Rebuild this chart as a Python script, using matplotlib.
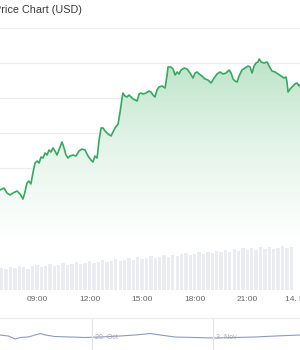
import numpy as np
import matplotlib
matplotlib.use('Agg')
import matplotlib.pyplot as plt
from matplotlib.colors import LinearSegmentedColormap
from matplotlib.patches import PathPatch

plt.rcParams['font.family'] = ['Liberation Sans', 'DejaVu Sans']

# price (USD), time in hours of the day
hours = [6.90, 7.12, 7.29, 7.45, 7.62, 7.84, 8.01, 8.17, 8.28, 8.39,
         8.50, 8.61, 8.73, 8.84, 8.95, 9.06, 9.17, 9.28, 9.39, 9.50,
         9.61, 9.72, 9.83, 9.94, 10.05, 10.16, 10.33, 10.44, 10.55, 10.66,
         10.77, 10.94, 11.10, 11.27, 11.44, 11.60, 11.77, 11.93, 12.04, 12.15,
         12.27, 12.38, 12.49, 12.60, 12.71, 12.87, 13.04, 13.15, 13.26, 13.43,
         13.54, 13.65, 13.70, 13.81, 13.92, 14.03, 14.15, 14.26, 14.37, 14.48,
         14.59, 14.70, 14.81, 14.98, 15.14, 15.25, 15.36, 15.47, 15.58, 15.69,
         15.86, 16.03, 16.14, 16.19, 16.36, 16.47, 16.58, 16.69, 16.80, 16.91,
         17.08, 17.24, 17.41, 17.57, 17.69, 17.80, 17.91, 18.07, 18.24, 18.40,
         18.57, 18.74, 18.90, 19.07, 19.23, 19.40, 19.57, 19.68, 19.79, 19.90,
         20.01, 20.12, 20.28, 20.45, 20.62, 20.73, 20.84, 20.95, 21.06, 21.17,
         21.23, 21.34, 21.50, 21.67, 21.78, 21.94, 22.11, 22.28, 22.44, 22.61,
         22.72, 22.77, 22.83, 22.94, 23.05, 23.21, 23.33, 23.44, 23.49]
price = [67480, 67500, 67450, 67430, 67450, 67470, 67440, 67390, 67460, 67550,
         67570, 67540, 67660, 67750, 67770, 67750, 67810, 67800, 67850, 67830,
         67880, 67860, 67900, 67870, 67830, 67880, 67960, 67900, 67830, 67800,
         67820, 67830, 67820, 67870, 67890, 67880, 67820, 67780, 67760, 67820,
         67800, 67980, 68100, 68100, 68070, 68040, 68020, 68060, 68100, 68140,
         68260, 68400, 68450, 68420, 68410, 68430, 68410, 68390, 68380, 68370,
         68440, 68450, 68440, 68450, 68470, 68460, 68430, 68410, 68480, 68510,
         68520, 68500, 68630, 68710, 68710, 68690, 68630, 68660, 68640, 68680,
         68700, 68690, 68650, 68600, 68650, 68660, 68640, 68620, 68590, 68580,
         68550, 68600, 68640, 68660, 68640, 68650, 68680, 68650, 68590, 68570,
         68560, 68620, 68680, 68700, 68720, 68710, 68650, 68720, 68750, 68760,
         68790, 68760, 68750, 68760, 68720, 68670, 68660, 68640, 68620, 68600,
         68610, 68560, 68460, 68490, 68510, 68540, 68550, 68520, 68530]

# volume every 15 minutes from 07:00
vol_start = 7.0
volume = [230, 215, 240, 225, 250, 235, 220, 245, 260, 240,
          255, 270, 250, 265, 280, 260, 275, 290, 270, 285,
          300, 280, 295, 310, 290, 305, 320, 300, 315, 330,
          310, 340, 320, 335, 350, 330, 345, 360, 340, 365,
          350, 370, 385, 360, 380, 395, 375, 400, 385, 410,
          395, 420, 400, 425, 410, 435, 415, 440, 420, 445,
          430, 450, 425, 440, 455, 435, 445]

tick_hours = [9, 12, 15, 18, 21, 24]
tick_labels = ['09:00', '12:00', '15:00', '18:00', '21:00', '14. Nov']

# navigator (days since 1 Oct)
nav_days = [8.35, 9.3, 10.1, 10.7, 11.6, 12.4, 13.0, 13.6, 14.7, 16.5,
            18.2, 19.9, 22.2, 24.0, 25.7, 26.9, 28.6, 30.9, 33.0, 35.5,
            37.9, 40.2, 43.1]
nav_price = [67000, 66000, 63000, 64500, 65000, 67000, 68500, 67000, 65500, 65000,
             64500, 65000, 66000, 67000, 68500, 67000, 65000, 64500, 64000, 64500,
             65000, 66000, 67000]
nav_marks = [19, 33]
nav_labels = ['20. Oct', '3. Nov']

xmin, xmax = 6.90, 23.49
pmin, pmax = 67000, 69100
line_col = '#36a862'
grid_col = '#ebebeb'

fig = plt.figure(figsize=(3, 3.5), dpi=100)

# title, cut off at the left edge like the reference
fig.text(82 / 300, 1 - 10 / 350, 'Price Chart (USD)', ha='right', va='center',
         fontsize=7.8, color='#3a3a3a')

# price panel
ax = fig.add_axes([0, 1 - 238 / 350, 1, 210 / 350])
ax.set_xlim(xmin, xmax)
ax.set_ylim(pmin, pmax)
for s in ax.spines.values():
    s.set_visible(False)
ax.set_xticks([])
ax.set_yticks(np.arange(pmin, pmax + 1, 350))
ax.tick_params(left=False, labelleft=False)
ax.grid(axis='y', color=grid_col, linewidth=0.8)
ax.set_axisbelow(True)

poly = ax.fill_between(hours, price, pmin, color='none', linewidth=0)
patch = PathPatch(poly.get_paths()[0], transform=ax.transData,
                  facecolor='none', edgecolor='none')
ax.add_patch(patch)
cmap = LinearSegmentedColormap.from_list('g', ['#ffffff', '#e3f4e8', '#b8e2c4'])
grad = np.linspace(0, 1, 256).reshape(-1, 1)
im = ax.imshow(grad, extent=[xmin, xmax, pmin, 68900], origin='lower',
               aspect='auto', cmap=cmap, zorder=1)
im.set_clip_path(patch)
ax.plot(hours, price, color=line_col, linewidth=1.2, zorder=3)
ax.set_xlim(xmin, xmax)
ax.set_ylim(pmin, pmax)

# volume panel
axv = fig.add_axes([0, 1 - 290 / 350, 1, 48 / 350])
vol_hours = vol_start + 0.25 * np.arange(len(volume))
axv.bar(vol_hours, volume, width=0.19, color='#eaecf1', linewidth=0)
axv.set_xlim(xmin, xmax)
axv.set_ylim(0, 500)
for s in axv.spines.values():
    s.set_visible(False)
axv.set_yticks([])
axv.set_xticks(tick_hours)
axv.set_xticklabels(tick_labels)
axv.tick_params(axis='x', length=0, pad=4, labelsize=6, labelcolor='#666666')

# navigator
axn = fig.add_axes([0, 0, 1, 32 / 350])
axn.plot(nav_days, nav_price, color='#8a9cc2', linewidth=0.8)
axn.set_xlim(8.35, 43.07)
axn.set_ylim(52000, 84000)
for s in axn.spines.values():
    s.set_visible(False)
axn.spines['top'].set_visible(True)
axn.spines['top'].set_color(grid_col)
axn.spines['top'].set_linewidth(0.8)
axn.set_xticks([])
axn.set_yticks([])
for d, lab in zip(nav_marks, nav_labels):
    axn.axvline(d, color='#e3e3e3', linewidth=0.8)
    axn.text(d + 0.35, 64500, lab, fontsize=5, color='#aaaaaa', va='center', ha='left')

fig.savefig('out.png', dpi=100)
